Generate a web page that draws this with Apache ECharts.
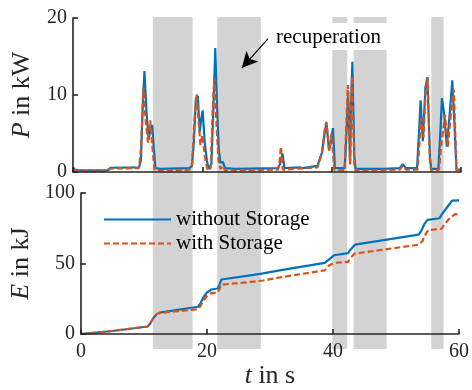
<!DOCTYPE html>
<html>
<head>
<meta charset="UTF-8">
<title>P and E</title>
<script src="https://cdn.jsdelivr.net/npm/echarts@6/dist/echarts.min.js"></script>
<style>
html,body{margin:0;padding:0;background:#fff;}
#chart{width:472px;height:390px;}
</style>
</head>
<body>
<div id="chart"></div>
<script type="text/javascript">
// power in kW, [t in s, P]
var powerNoStorage = [
  [0,0.6],[0.3,0.3],[1,0.2],[5.3,0.2],[5.8,0.55],[10.2,0.6],[10.5,1.5],[10.8,9],[11.05,13.1],[11.35,8],
  [11.7,4.2],[12.0,5.5],[12.25,6.1],[12.5,3],[12.75,0.5],[13.5,0.4],[18.0,0.5],[18.4,0.8],[18.7,4],[19.0,9.5],
  [19.3,9.9],[19.6,5.2],[19.85,7],[20.05,8.0],[20.35,4],[20.7,1.5],[21.0,0.4],[21.4,1],[21.7,8],[22.0,16.1],
  [22.3,8],[22.55,2.8],[22.8,1.2],[23.2,1.3],[23.5,0.5],[25,0.4],[31.7,0.5],[32.0,1],[32.4,2.4],[32.7,0.5],
  [35,0.6],[35.5,0.5],[37.8,0.8],[38.5,2.5],[39.0,5.5],[39.2,6.3],[39.6,2.8],[39.9,4],[40.2,5.7],[40.5,0.5],
  [42.0,0.5],[42.3,5],[42.55,10.5],[42.85,1],[43.0,9],[43.2,14.3],[43.5,2],[43.7,0.4],[48,0.4],[50.5,0.5],
  [51,1.0],[51.5,0.5],[53.2,0.5],[53.5,5],[53.75,9.3],[54.1,4],[54.5,11],[54.8,12.3],[55.2,2],[55.4,0.4],
  [56.5,0.4],[56.8,5],[57.05,9.6],[57.4,7.5],[57.8,3.3],[58.2,7],[58.65,11.9],[59.0,6],[59.3,0.3],[60,0.3]
];
var powerWithStorage = [
  [0,0.3],[1,0.1],[5.3,0.1],[5.8,0.45],[10.2,0.5],[10.5,3],[10.9,11],[11.2,7],[11.6,3.8],[11.95,6.7],
  [12.3,3],[12.6,0.3],[13.5,0.2],[18.0,0.3],[18.4,1],[18.8,7],[19.1,10.1],[19.4,7],[19.7,3.5],[20.0,4.8],
  [20.4,2],[20.8,0.2],[21.3,0.5],[21.6,8],[21.85,12.2],[22.2,6],[22.5,1.5],[22.8,0.4],[23.2,0.8],[23.5,0.2],
  [31.7,0.3],[31.9,1],[32.15,3.3],[32.45,0.3],[37.8,0.6],[38.5,2.5],[39.0,6],[39.2,6.5],[39.6,2.8],[40.0,5.0],
  [40.4,0.3],[42.0,0.2],[42.25,6],[42.5,11.3],[42.85,1],[43.0,8],[43.15,12.4],[43.5,1],[43.7,0.2],[50.5,0.3],
  [51.0,0.8],[51.5,0.3],[53.3,0.3],[53.6,4],[53.85,7],[54.2,4.5],[54.5,10],[54.85,12.3],[55.2,1],[55.4,0.2],
  [56.6,0.3],[57.0,4],[57.55,7.4],[57.95,3.3],[58.5,8],[58.9,10.7],[59.3,0.2],[60,0.2]
];
// energy in kJ, [t in s, E]
var energyNoStorage = [
  [0,0],[5,2.2],[10.6,5.4],[11.0,7.5],[11.5,11.4],[12.0,14],[12.5,15.2],[18.6,19.4],[19.0,22],[19.4,25.8],
  [20.0,29.5],[20.7,31.6],[21.7,32.3],[22.0,35],[22.3,38.7],[27.4,42],[28.9,43],[32,45.5],[38.7,50.5],[39.3,52.6],
  [40.2,55.9],[42.4,57.4],[42.8,60],[43.5,63.4],[53.6,70.5],[54.0,73],[54.5,78],[55.0,81],[56.9,82.1],[57.3,85],
  [58.0,89.2],[58.9,94.6],[60,94.8]
];
var energyWithStorage = [
  [0,0],[5,2.2],[10.6,5.4],[11.0,7.5],[11.5,11.4],[12.0,14],[12.5,15],[18.6,17.6],[19.0,20],[19.4,23.6],
  [20.0,27],[20.7,29],[21.7,29.4],[22.0,32],[22.3,35],[27.4,37.2],[28.9,38],[32,40.5],[38.7,45.2],[39.3,48.4],
  [40.2,50.5],[42.4,51.2],[42.8,54],[43.4,57],[53.6,63.4],[54.2,66],[54.6,70],[55.1,73.7],[57.2,74.6],[57.6,77],
  [58.2,80.6],[58.9,83.5],[59.3,84.9],[60,85]
];
// recuperation intervals in s
var recuperation = [[12.35,18.5],[22.3,29.05],[40.1,42.4],[43.4,48.5],[55.4,57.3]];
var xTicks = [0, 20, 40, 60];
var seriesNames = ['without Storage', 'with Storage'];
// arrow from label to shaded area, [t, P]
var arrowFrom = [31.1, 18.2];
var arrowTo = [26.1, 13.5];

var FONT = '"Liberation Serif", serif';
var AX = '#262626';
var BLUE = '#0072BD';
var ORANGE = '#D95319';
var DASH = [6, 3];

function xAxisOpt(idx, showLabel) {
  return {
    type: 'value', gridIndex: idx, min: xTicks[0], max: xTicks[xTicks.length - 1], interval: 20,
    show: idx != 2, z: 5,
    axisLine: {lineStyle: {color: AX, width: 1.6}},
    axisTick: {inside: true, length: 5, lineStyle: {color: AX, width: 1.6}},
    axisLabel: {show: showLabel, color: AX, fontFamily: FONT, fontSize: 20, margin: 8},
    splitLine: {show: false}
  };
}
function yAxisOpt(idx, max, interval, name) {
  return {
    type: 'value', gridIndex: idx, min: 0, max: max, interval: interval, z: 5,
    axisLine: {show: true, lineStyle: {color: AX, width: 1.6}},
    axisTick: {show: true, inside: true, length: 5, lineStyle: {color: AX, width: 1.6}},
    axisLabel: {color: AX, fontFamily: FONT, fontSize: 20, margin: 6},
    splitLine: {show: false},
    name: name, nameLocation: 'middle', nameGap: 38,
    nameTextStyle: {color: AX, fontFamily: FONT, fontSize: 26, rich: {
      i: {fontStyle: 'italic', fontFamily: FONT, fontSize: 26, color: AX},
      r: {fontFamily: FONT, fontSize: 26, color: AX}}}
  };
}

var chart = echarts.init(document.getElementById('chart'));
var xBottom = xAxisOpt(1, true);
xBottom.name = '{i|t}{r| in s}';
xBottom.nameLocation = 'middle';
xBottom.nameGap = 14;
xBottom.nameTextStyle = {color: AX, fontFamily: FONT, fontSize: 26, rich: {
  i: {fontStyle: 'italic', fontFamily: FONT, fontSize: 26, color: AX},
  r: {fontFamily: FONT, fontSize: 26, color: AX}}};

var yShade = {type: 'value', gridIndex: 2, min: 0, max: 1, show: false};

chart.setOption({
  animation: false,
  textStyle: {fontFamily: FONT},
  grid: [
    {left: 73, top: 18, width: 388, height: 154},
    {left: 73, top: 193, width: 388, height: 155},
    {left: 73, top: 17, width: 388, height: 332}
  ],
  xAxis: [xAxisOpt(0, false), xBottom, xAxisOpt(2, false)],
  yAxis: [yAxisOpt(0, 20, 10, '{i|P}{r| in kW}'), yAxisOpt(1, 100, 50, '{i|E}{r| in kJ}'), yShade],
  legend: {
    data: seriesNames, orient: 'vertical', left: 98, top: 204,
    itemWidth: 67, itemHeight: 6, itemGap: 3,
    itemStyle: {opacity: 0},
    textStyle: {fontFamily: FONT, fontSize: 21, color: '#000', lineHeight: 21}
  },
  graphic: [
    {type: 'rect', z: 50, shape: {x: 268, y: 23, width: 124, height: 27}, style: {fill: '#fff'}},
    {type: 'text', z: 51, x: 276, y: 37, style: {text: 'recuperation', font: '21px "Liberation Serif"', fill: '#000', verticalAlign: 'middle'}}
  ],
  series: [
    {
      type: 'line', xAxisIndex: 2, yAxisIndex: 2, data: [[0, 0]], symbol: 'none', silent: true, z: 1,
      lineStyle: {opacity: 0},
      markArea: {silent: true, itemStyle: {color: '#d3d3d3'},
        data: recuperation.map(function(r) { return [{xAxis: r[0]}, {xAxis: r[1]}]; })}
    },
    {
      name: seriesNames[0], type: 'line', xAxisIndex: 0, yAxisIndex: 0, data: powerNoStorage,
      symbol: 'none', z: 3, lineStyle: {color: BLUE, width: 2.2}, itemStyle: {color: BLUE},
      markLine: {silent: true, symbol: ['none', 'arrow'], symbolSize: [12, 16],
        lineStyle: {color: '#000', width: 1.2, type: 'solid'}, label: {show: false},
        data: [[{coord: arrowFrom}, {coord: arrowTo}]]}
    },
    {
      name: seriesNames[1], type: 'line', xAxisIndex: 0, yAxisIndex: 0, data: powerWithStorage,
      symbol: 'none', z: 4, lineStyle: {color: ORANGE, width: 2.2, type: DASH}, itemStyle: {color: ORANGE}
    },
    {
      name: seriesNames[0], type: 'line', xAxisIndex: 1, yAxisIndex: 1, data: energyNoStorage,
      symbol: 'none', z: 3, lineStyle: {color: BLUE, width: 2.2}, itemStyle: {color: BLUE}
    },
    {
      name: seriesNames[1], type: 'line', xAxisIndex: 1, yAxisIndex: 1, data: energyWithStorage,
      symbol: 'none', z: 4, lineStyle: {color: ORANGE, width: 2.2, type: DASH}, itemStyle: {color: ORANGE}
    }
  ]
});
</script>
</body>
</html>
